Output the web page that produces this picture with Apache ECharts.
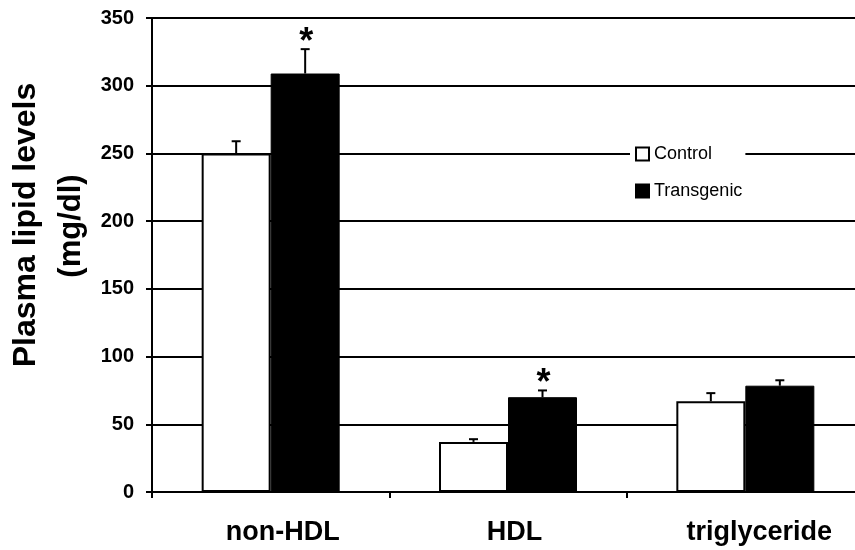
<!DOCTYPE html>
<html>
<head>
<meta charset="utf-8">
<script src="https://cdn.jsdelivr.net/npm/echarts@6/dist/echarts.min.js"></script>
<style>
html,body{margin:0;padding:0;background:#fff;overflow:hidden;}
#chart{width:855px;height:550px;}
</style>
</head>
<body>
<div id="chart"></div>
<script>
// ---- data ----
const categories = ['non-HDL', 'HDL', 'triglyceride'];
const controlValues = [250, 37, 67];
const controlErrors = [9, 2, 6];
const transgenicValues = [309, 70, 78.5];
const transgenicErrors = [18, 5, 4];
const transgenicMarks = ['*', '*', ''];
const yTicks = [0, 50, 100, 150, 200, 250, 300, 350];
const seriesNames = ['Control', 'Transgenic'];
const yTitle = ['Plasma lipid levels', '(mg/dl)'];

const FONT = '"Liberation Sans", Arial, Helvetica, sans-serif';
const BAR_W = 69;
const labelPads = [24, 13, 28];
const XFS = 27;

const chart = echarts.init(document.getElementById('chart'), null, {renderer: 'canvas'});

function errorSeries(name, values, errors, side, marks) {
  return {
    type: 'custom',
    name: name + '-err',
    z: 5,
    silent: true,
    clip: false,
    data: values.map((v, i) => [i, v, errors[i]]),
    renderItem: function (params, api) {
      const i = api.value(0);
      const v = api.value(1);
      const e = api.value(2);
      const p0 = api.coord([i, v]);
      const p1 = api.coord([i, v + e]);
      const x = p0[0] + side * BAR_W / 2;
      const children = [
        {type: 'line', shape: {x1: x, y1: p0[1], x2: x, y2: p1[1]}, style: {stroke: '#000', lineWidth: 2}},
        {type: 'line', shape: {x1: x - 4.5, y1: p1[1], x2: x + 4.5, y2: p1[1]}, style: {stroke: '#000', lineWidth: 2}}
      ];
      const m = marks ? marks[params.dataIndex] : '';
      if (m) {
        children.push({type: 'text', x: x + 1, y: p1[1] - 6,
          style: {text: m, font: 'bold 36px ' + FONT, fill: '#000', align: 'center', verticalAlign: 'middle'}});
      }
      return {type: 'group', children: children};
    }
  };
}

function richStyle(pad) {
  return {padding: [0, 0, 0, pad], fontFamily: FONT, fontWeight: 'bold', fontSize: XFS, color: '#000'};
}

const option = {
  backgroundColor: '#fff',
  animation: false,
  grid: {left: 152, width: 712, top: 18, height: 474, containLabel: false, outerBoundsMode: 'none'},
  legend: {
    data: seriesNames,
    orient: 'vertical',
    left: 630,
    top: 140,
    padding: [5, 3, 5, 5],
    itemGap: 19,
    itemWidth: 13,
    itemHeight: 13,
    icon: 'rect',
    backgroundColor: '#fff',
    textStyle: {fontFamily: FONT, fontSize: 18, color: '#000'}
  },
  xAxis: {
    type: 'category',
    data: categories,
    boundaryGap: true,
    axisLine: {lineStyle: {color: '#000', width: 2}},
    axisTick: {show: true, interval: 0, length: 6, lineStyle: {color: '#000', width: 2}},
    axisLabel: {
      interval: 0,
      margin: 27,
      color: '#000',
      fontFamily: FONT,
      fontWeight: 'bold',
      fontSize: XFS,
      formatter: function (val, idx) { return '{c' + idx + '|' + val + '}'; },
      rich: {c0: richStyle(labelPads[0]), c1: richStyle(labelPads[1]), c2: richStyle(labelPads[2])}
    },
    splitLine: {show: false}
  },
  yAxis: {
    type: 'value',
    min: yTicks[0],
    max: yTicks[yTicks.length - 1],
    interval: yTicks[1] - yTicks[0],
    axisLine: {show: true, lineStyle: {color: '#000', width: 2}},
    axisTick: {show: true, length: 6, lineStyle: {color: '#000', width: 2}},
    axisLabel: {margin: 18, color: '#000', fontFamily: FONT, fontWeight: 'bold', fontSize: 20},
    splitLine: {show: true, lineStyle: {color: '#000', width: 2}}
  },
  graphic: [
    {type: 'text', x: 26, y: 225, rotation: Math.PI / 2,
      style: {text: yTitle[0], font: 'bold 32px ' + FONT, fill: '#000', align: 'center', verticalAlign: 'middle'}},
    {type: 'text', x: 71, y: 226, rotation: Math.PI / 2,
      style: {text: yTitle[1], font: 'bold 31px ' + FONT, fill: '#000', align: 'center', verticalAlign: 'middle'}}
  ],
  series: [
    {
      name: seriesNames[0],
      type: 'bar',
      barWidth: BAR_W,
      barGap: '0%',
      data: controlValues,
      itemStyle: {color: '#fff', borderColor: '#000', borderWidth: 2}
    },
    {
      name: seriesNames[1],
      type: 'bar',
      barWidth: BAR_W,
      barGap: '0%',
      data: transgenicValues,
      itemStyle: {color: '#000', borderColor: '#000', borderWidth: 1}
    },
    errorSeries(seriesNames[0], controlValues, controlErrors, -1, null),
    errorSeries(seriesNames[1], transgenicValues, transgenicErrors, 1, transgenicMarks)
  ]
};
chart.setOption(option);
</script>
</body>
</html>
